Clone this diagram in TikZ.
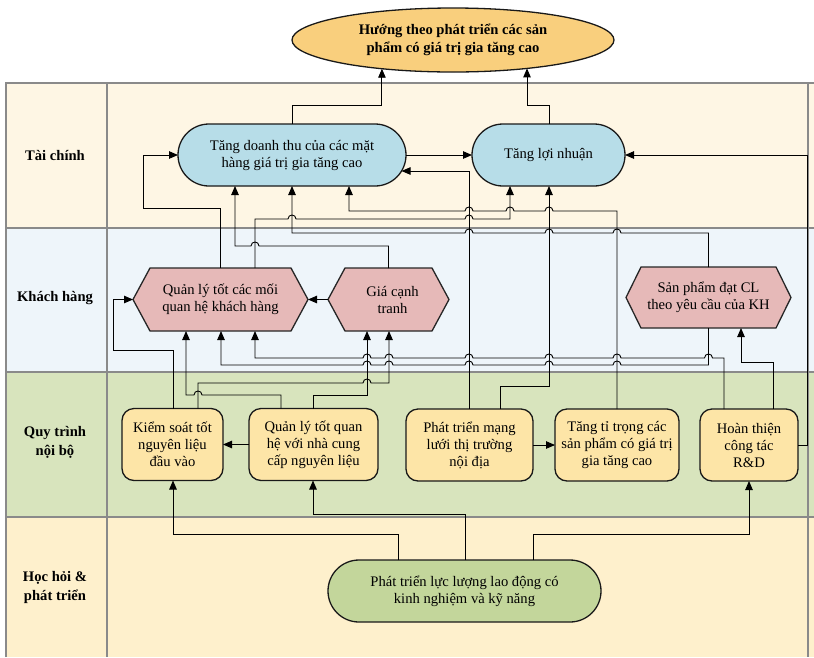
\documentclass[tikz,border=0pt]{standalone}
\usepackage{fontspec}
\setmainfont{Liberation Serif}
\usetikzlibrary{arrows.meta,shapes.geometric}

\definecolor{lanefin}{HTML}{FEF6E4}
\definecolor{lanecus}{HTML}{EEF5FA}
\definecolor{laneproc}{HTML}{D8E4BD}
\definecolor{lanelearn}{HTML}{FEF0CC}
\definecolor{goalfill}{HTML}{F9CF7D}
\definecolor{finfill}{HTML}{B7DDE8}
\definecolor{cusfill}{HTML}{E6B9B8}
\definecolor{procfill}{HTML}{FDE5A7}
\definecolor{learnfill}{HTML}{C3D69B}
\definecolor{lanegrid}{HTML}{8A8A8A}

% line jumps (image coordinates, y downwards)
\newcommand\jl[2]{-- (#1+4,#2) .. controls (#1+4,#2-5.3) and (#1-4,#2-5.3) .. (#1-4,#2)}
\newcommand\jr[2]{-- (#1-4,#2) .. controls (#1-4,#2-5.3) and (#1+4,#2-5.3) .. (#1+4,#2)}
% hexagon: name, cx, cy, half width, half height, point depth, text
\newcommand\hexnode[7]{%
  \draw[hexshape] (#2-#4,#3) -- (#2-#4+#6,#3-#5) -- (#2+#4-#6,#3-#5) -- (#2+#4,#3)
     -- (#2+#4-#6,#3+#5) -- (#2-#4+#6,#3+#5) -- cycle;
  \node[hextext,minimum width={2*#4pt},minimum height={2*#5pt}] (#1) at (#2,#3) {#7};}

\begin{document}
\begin{tikzpicture}[x=1pt,y=-1pt,
  every node/.style={inner sep=0pt,outer sep=0pt,align=center,font=\fontsize{14.6}{17}\selectfont},
  goal/.style={ellipse,draw=black!90,line width=1.3pt,fill=goalfill,minimum width=322pt,minimum height=64pt,font=\fontsize{14.6}{17.5}\selectfont\bfseries},
  finbox/.style={rectangle,rounded corners=31pt,draw=black!90,line width=1.3pt,fill=finfill,minimum height=62pt},
  procbox/.style={rectangle,rounded corners=12pt,draw=black!90,line width=1.3pt,fill=procfill,minimum height=72pt},
  learnbox/.style={rectangle,rounded corners=31pt,draw=black!90,line width=1.3pt,fill=learnfill,minimum height=62pt,minimum width=273pt},
  hexshape/.style={draw=black!85,line width=1.3pt,fill=cusfill,line join=miter},
  hextext/.style={rectangle},
  lanehead/.style={font=\fontsize{14.6}{19}\selectfont\bfseries},
  lanerule/.style={draw=lanegrid,line width=1.3pt},
  conn/.style={draw=black,line width=0.9pt,-{Triangle[length=9pt,width=7.5pt]}},
]
\useasboundingbox (0,0) rectangle (814,657);
\fill[white] (0,0) rectangle (814,657);

% lanes
\fill[lanefin] (6,83) rectangle (814,228);
\fill[lanecus] (6,228) rectangle (814,372);
\fill[laneproc] (6,372) rectangle (814,517);
\fill[lanelearn] (6,517) rectangle (814,657);
\draw[lanerule] (6,657) -- (6,83) -- (814,83);
\draw[lanerule] (107,83) -- (107,657);
\draw[lanerule] (808,83) -- (808,657);
\draw[lanerule] (6,228) -- (814,228);
\draw[lanerule] (6,372) -- (814,372);
\draw[lanerule] (6,517) -- (814,517);

\node[lanehead] (h1) at (55,155) {Tài chính};
\node[lanehead] (h2) at (55,298) {Khách hàng};
\node[lanehead] (h3) at (55,442) {Quy trình\\nội bộ};
\node[lanehead] (h4) at (55,587) {Học hỏi \&\\phát triển};

% nodes
\node[goal] (G0) at (453,40) {Hướng theo phát triển các sản\\phẩm có giá trị gia tăng cao};
\node[finbox,minimum width=228pt] (A) at (292,155) {Tăng doanh thu của các mặt\\hàng giá trị gia tăng cao};
\node[finbox,minimum width=153pt] (B) at (548.5,155) {Tăng lợi nhuận};

\hexnode{C}{220.5}{299.5}{87.5}{31.5}{17}{Quản lý tốt các mối\\quan hệ khách hàng}
\hexnode{D}{388.5}{299.5}{60.5}{31.5}{17}{\hspace*{8pt}Giá cạnh\\\hspace*{8pt}tranh}
\hexnode{E}{708.5}{297.5}{82.5}{30.5}{15}{Sản phẩm đạt CL\\theo yêu cầu của KH}

\node[procbox,minimum width=101pt] (F) at (172.5,444.5) {Kiểm soát tốt\\nguyên liệu\\đầu vào};
\node[procbox,minimum width=129pt] (G) at (313.5,444.5) {Quản lý tốt quan\\hệ với nhà cung\\cấp nguyên liệu};
\node[procbox,minimum width=127pt] (H) at (469.5,445) {Phát triển mạng\\lưới thị trường\\nội địa};
\node[procbox,minimum width=124pt] (I) at (617,445) {Tăng tỉ trọng các\\sản phẩm có giá trị\\gia tăng cao};
\node[procbox,minimum width=98pt] (J) at (749,445) {Hoàn thiện\\công tác\\R\&D};

\node[learnbox] (K) at (464.5,591) {Phát triển lực lượng lao động có\\kinh nghiệm và kỹ năng};

% connectors: financial -> goal
\draw[conn] (A.north) -- (292,105) -| (G0.202);
\draw[conn] ([xshift=0.5pt]B.north) -- (549,105) -| (G0.-21.3);
\draw[conn] (A.east) -- (B.west);
\draw[conn] (J.east) -- (807,445) |- (B.east);

% into A
\draw[conn] ([xshift=-0.5pt]C.north) -- (220,208) -- (143,208) |- (A.west);
\draw[conn] ([xshift=-0.5pt]H.north) |- ([xshift=-4.45pt,yshift=-16pt]A.east);
\draw[conn] (I.north) -- (617,211) \jl{549}{211} \jl{510}{211} \jl{469}{211} -- (349,211) -- ([xshift=57pt]A.south);
\draw[conn] (D.north) -- (388.5,246) \jl{255}{246} -- (235,246) -- ([xshift=-57pt]A.south);
\draw[conn] (E.north) -- (708.5,233) \jl{617}{233} \jl{549}{233} \jl{469}{233} -- (292,233) -- (A.south);

% into B
\draw[conn] ([xshift=34.5pt]C.north) -- (255,219) \jr{292}{219} \jr{469}{219} -- (510,219) -- ([xshift=-38.5pt]B.south);
\draw[conn] ([xshift=30.5pt]H.north) -- (500,386) -- (549,386) -- ([xshift=0.5pt]B.south);

% customer lane
\draw[conn] ([xshift=24pt]J.north) -- (773,362) -- (741,362) -- ([xshift=32.5pt]E.south);
\draw[conn] ([xshift=-25pt]J.north) -- (724,358) \jl{708.5}{358} \jl{617}{358} \jl{549}{358} \jl{469}{358} \jl{389}{358} \jl{367}{358} -- (255,358) -- ([xshift=34.5pt]C.south);
\draw[conn] (E.south) -- (708.5,365) \jl{617}{365} \jl{549}{365} \jl{469}{365} \jl{389}{365} \jl{367}{365} -- (221,365) -- ([xshift=0.5pt]C.south);
\draw[conn] ([xshift=-32.5pt]G.north) -- (281,395) \jl{198}{395} -- (186,395) -- ([xshift=-34.5pt]C.south);
\draw[conn] ([xshift=25.5pt]F.north) -- (198,383) \jr{367}{383} -- (389,383) -- ([xshift=0.5pt]D.south);
\draw[conn] ([xshift=-0.5pt]G.north) -- (313,395) -- (367,395) -- ([xshift=-21.5pt]D.south);
\draw[conn] ([xshift=0.5pt]F.north) -- (173,350) -- (113,350) |- (C.west);
\draw[conn] (D.west) -- (C.east);

% process lane
\draw[conn] (G.west) -- (F.east);
\draw[conn] (H.east) -- (I.west);

% learning lane
\draw[conn] ([xshift=-66.5pt]K.north) -- (398,534) -| ([xshift=0.5pt]F.south);
\draw[conn] ([xshift=0.5pt]K.north) -- (465,514) -| ([xshift=-0.5pt]G.south);
\draw[conn] ([xshift=68.5pt]K.north) -- (533,534) -| (J.south);
\end{tikzpicture}
\end{document}
